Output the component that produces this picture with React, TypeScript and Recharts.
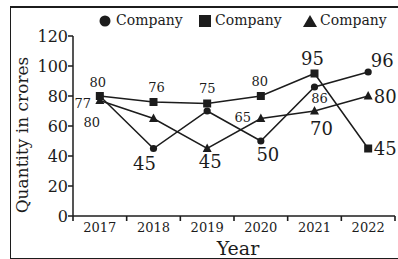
import React from 'react';
import { LineChart, Line, XAxis, YAxis, Legend, LabelList } from 'recharts';

const years = ['2017', '2018', '2019', '2020', '2021', '2022'];
const circleValues = [80, 45, 70, 50, 86, 96];
const squareValues = [80, 76, 75, 80, 95, 45];
const triangleValues = [77, 65, 45, 65, 70, 80];
const yTicks = [0, 20, 40, 60, 80, 100, 120];
const seriesName = 'Company';

// where each value label sits relative to its point: [dx, dy, fontSize], null = not shown
const circleLabelPos = [[-8, 26, 13], [-9, 15, 18], null, [7, 13, 18], [5, 11, 13], [14, -12, 18]];
const squareLabelPos = [[-2, -14, 13], [3, -15, 13], [0, -15, 13], [-1, -15, 13], [-2, -15, 18], [17, 0, 18]];
const triangleLabelPos = [[-17, 3, 13], null, [3, 13, 18], [-18, -1, 13], [7, 17, 18], [17, 0, 18]];

const data = years.map((year, i) => ({
  year,
  circle: circleValues[i],
  square: squareValues[i],
  triangle: triangleValues[i],
}));

const FONT = '"DejaVu Serif", serif';
const INK = '#1c1c1c';

const CHART_W = 398;
const CHART_H = 259;
const Y_AXIS_W = 73;
const X_AXIS_H = 30;
const MARGIN = { top: 36, right: 3, bottom: 13, left: 0 };
const PLOT_W = CHART_W - Y_AXIS_W - MARGIN.left - MARGIN.right;
const HALF_BAND = PLOT_W / years.length / 2;
const X_TICK_SIZE = 6;
const X_TICK_MARGIN = 2;
const X_TICK_OFFSET = X_TICK_SIZE + X_TICK_MARGIN; // tick y sits this far below the axis line

const makeLabel = (pos: (number[] | null)[]) => (props: any) => {
  const { value, index } = props;
  const x = props.x ?? props.viewBox?.x;
  const y = props.y ?? props.viewBox?.y;
  const p = pos[index];
  if (!p || x == null || y == null) return null;
  return (
    <text
      x={x + p[0]}
      y={y + p[1]}
      textAnchor="middle"
      dominantBaseline="central"
      fontSize={p[2]}
      fontFamily={FONT}
      fill={INK}
    >
      {value}
    </text>
  );
};

const CircleDot = (props: any) => {
  const { cx, cy, index } = props;
  if (cx == null || cy == null) return null;
  return <circle key={`c-${index}`} cx={cx} cy={cy} r={3.6} fill={INK} />;
};

const SquareDot = (props: any) => {
  const { cx, cy, index } = props;
  if (cx == null || cy == null) return null;
  return <rect key={`s-${index}`} x={cx - 4} y={cy - 4} width={8} height={8} fill={INK} />;
};

const TriangleDot = (props: any) => {
  const { cx, cy, index } = props;
  if (cx == null || cy == null) return null;
  return (
    <polygon
      key={`t-${index}`}
      points={`${cx},${cy - 5} ${cx + 4.5},${cy + 3.5} ${cx - 4.5},${cy + 3.5}`}
      fill={INK}
    />
  );
};

// year label in the middle of its band, tick marks on the band edges
const YearTick = (props: any) => {
  const { x, y, payload, index } = props;
  const i = payload?.index ?? index;
  const axisY = y - X_TICK_OFFSET;
  return (
    <g>
      <text x={x} y={axisY + 11} textAnchor="middle" dominantBaseline="central" fontSize={13} fontFamily={FONT} fill={INK}>
        {payload.value}
      </text>
      {i === 0 && (
        <path d={`M${x - HALF_BAND},${axisY}V${axisY + 5}`} stroke={INK} strokeWidth={1.6} fill="none" />
      )}
      <path d={`M${x + HALF_BAND},${axisY}V${axisY + 5}`} stroke={INK} strokeWidth={1.6} fill="none" />
    </g>
  );
};

// zero-height wrapper so the legend does not push the plot down
const LegendContent = () => (
  <div style={{ position: 'relative', height: 0, fontFamily: FONT, fontSize: 14, color: INK }}>
    <svg style={{ position: 'absolute', left: 99, top: 15 }} width={12} height={12}>
      <circle cx={6} cy={6} r={5.5} fill={INK} />
    </svg>
    <span style={{ position: 'absolute', left: 116, top: 12, whiteSpace: 'nowrap' }}>{seriesName}</span>
    <svg style={{ position: 'absolute', left: 199, top: 15 }} width={12} height={12}>
      <rect x={0} y={0} width={12} height={12} fill={INK} />
    </svg>
    <span style={{ position: 'absolute', left: 215, top: 12, whiteSpace: 'nowrap' }}>{seriesName}</span>
    <svg style={{ position: 'absolute', left: 303, top: 15 }} width={14} height={12}>
      <polygon points="7,0 14,12 0,12" fill={INK} />
    </svg>
    <span style={{ position: 'absolute', left: 320, top: 12, whiteSpace: 'nowrap' }}>{seriesName}</span>
  </div>
);

export default function App() {
  return (
    <div style={{ position: 'fixed', left: 0, top: 0, width: CHART_W, height: CHART_H, background: '#fff', overflow: 'hidden' }}>
      <div
        style={{
          position: 'absolute',
          left: 10,
          top: 6,
          width: 420,
          height: 250,
          borderTop: `2px solid ${INK}`,
          borderLeft: `1.5px solid ${INK}`,
          borderBottom: `1.5px solid ${INK}`,
        }}
      />
      <LineChart
        width={CHART_W}
        height={CHART_H}
        data={data}
        margin={MARGIN}
        style={{ position: 'absolute', left: 0, top: 0 }}
      >
        <XAxis
          dataKey="year"
          height={X_AXIS_H}
          tick={<YearTick />}
          tickLine={false}
          tickSize={X_TICK_SIZE}
          tickMargin={X_TICK_MARGIN}
          axisLine={{ stroke: INK, strokeWidth: 1.5 }}
          interval={0}
          padding={{ left: HALF_BAND, right: HALF_BAND }}
          label={{
            content: (p: any) => {
              const vb = p.viewBox || {};
              return (
                <text x={vb.x + vb.width / 2 + 4} y={255} textAnchor="middle" fontSize={19} fontFamily={FONT} fill={INK}>
                  Year
                </text>
              );
            },
          }}
        />
        <YAxis
          domain={[0, 120]}
          ticks={yTicks}
          width={Y_AXIS_W}
          tickSize={5}
          tickMargin={0}
          tick={{ fontSize: 16, fontFamily: FONT, fill: INK }}
          tickLine={{ stroke: INK, strokeWidth: 1.5 }}
          axisLine={{ stroke: INK, strokeWidth: 1.5 }}
          label={{
            content: (p: any) => {
              const vb = p.viewBox || {};
              const cy = vb.y + vb.height / 2 + 9;
              return (
                <text
                  x={22}
                  y={cy}
                  transform={`rotate(-90 22 ${cy})`}
                  textAnchor="middle"
                  dominantBaseline="central"
                  fontSize={17}
                  fontFamily={FONT}
                  fill={INK}
                >
                  Quantity in crores
                </text>
              );
            },
          }}
        />
        <Legend verticalAlign="top" content={<LegendContent />} wrapperStyle={{ top: 0, left: 0, width: CHART_W }} />
        <Line dataKey="circle" name={seriesName} stroke={INK} strokeWidth={1.5} dot={CircleDot} isAnimationActive={false}>
          <LabelList dataKey="circle" content={makeLabel(circleLabelPos)} />
        </Line>
        <Line dataKey="square" name={seriesName} stroke={INK} strokeWidth={1.5} dot={SquareDot} isAnimationActive={false}>
          <LabelList dataKey="square" content={makeLabel(squareLabelPos)} />
        </Line>
        <Line dataKey="triangle" name={seriesName} stroke={INK} strokeWidth={1.5} dot={TriangleDot} isAnimationActive={false}>
          <LabelList dataKey="triangle" content={makeLabel(triangleLabelPos)} />
        </Line>
      </LineChart>
    </div>
  );
}
